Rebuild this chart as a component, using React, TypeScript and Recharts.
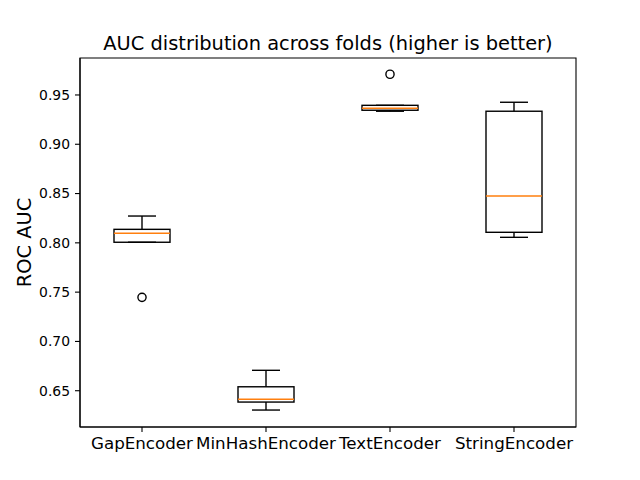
import { Bar, ComposedChart, ReferenceArea, Scatter, XAxis, YAxis } from "recharts";

const categories = ["GapEncoder", "MinHashEncoder", "TextEncoder", "StringEncoder"];
const whiskerLow = [0.8006, 0.6304, 0.9335, 0.8056];
const q1 = [0.8006, 0.6385, 0.9345, 0.8107];
const median = [0.8097, 0.6413, 0.9365, 0.8475];
const q3 = [0.8137, 0.654, 0.9395, 0.9335];
const whiskerHigh = [0.8272, 0.6707, 0.9395, 0.9426];
const outlier = [0.7447, null, 0.971, null];
const yTicks = [0.65, 0.7, 0.75, 0.8, 0.85, 0.9, 0.95];
const yDomain = [0.6132, 0.9875];

const FONT = "'DejaVu Sans', sans-serif";
const ORANGE = "#ff7f0e";

const data = categories.map((name, i) => ({
  name,
  range: [whiskerLow[i], whiskerHigh[i]],
  q1: q1[i],
  median: median[i],
  q3: q3[i],
  outlier: outlier[i],
}));

// Box + whiskers. The bar spans low..high whisker; inner values are placed
// linearly inside the rectangle the library computed.
function BoxShape(props: any) {
  const { x, y, width, height, payload } = props;
  const [lo, hi] = payload.range;
  const toY = (v: number) => y + ((hi - v) / (hi - lo)) * height;
  const cx = x + width / 2;
  const capHalf = width / 4;
  const yQ1 = toY(payload.q1);
  const yQ3 = toY(payload.q3);
  const yMed = toY(payload.median);
  const yLo = y + height;
  const sw = 1.4;
  return (
    <g>
      <line x1={cx} x2={cx} y1={y} y2={yQ3} stroke="#000" strokeWidth={sw} />
      <line x1={cx} x2={cx} y1={yQ1} y2={yLo} stroke="#000" strokeWidth={sw} />
      <line x1={cx - capHalf} x2={cx + capHalf} y1={y} y2={y} stroke="#000" strokeWidth={sw} />
      <line x1={cx - capHalf} x2={cx + capHalf} y1={yLo} y2={yLo} stroke="#000" strokeWidth={sw} />
      <rect x={x} y={yQ3} width={width} height={yQ1 - yQ3} fill="none" stroke="#000" strokeWidth={sw} />
      <line x1={x} x2={x + width} y1={yMed} y2={yMed} stroke={ORANGE} strokeWidth={sw} />
    </g>
  );
}

function OutlierShape(props: any) {
  const { cx, cy, payload } = props;
  if (payload == null || payload.outlier == null || !Number.isFinite(cy)) return <g />;
  return <circle cx={cx} cy={cy} r={4.1} fill="none" stroke="#000" strokeWidth={1.4} />;
}

function YLabel(props: any) {
  const { viewBox } = props;
  const cy = viewBox.y + viewBox.height / 2;
  return (
    <text
      x={24}
      y={cy}
      transform={`rotate(-90 24 ${cy})`}
      textAnchor="middle"
      dominantBaseline="central"
      fontFamily={FONT}
      fontSize={19.4}
      fill="#000"
    >
      ROC AUC
    </text>
  );
}

export default function App() {
  return (
    <div style={{ position: "absolute", left: 0, top: 0, width: 640, height: 480, background: "#fff" }}>
      <div
        style={{
          position: "absolute",
          left: 80,
          top: 34,
          width: 496,
          textAlign: "center",
          fontFamily: FONT,
          fontSize: 19.4,
          lineHeight: "19.4px",
          color: "#000",
        }}
      >
        AUC distribution across folds (higher is better)
      </div>
      <ComposedChart width={640} height={480} data={data} margin={{ top: 58, right: 64, left: 0, bottom: 0 }}>
        <XAxis
          dataKey="name"
          type="category"
          interval={0}
          height={53}
          tickSize={5}
          tickMargin={5}
          tick={{ fontFamily: FONT, fontSize: 16.7, fill: "#000" }}
          tickLine={{ stroke: "#000", strokeWidth: 1.1 }}
          axisLine={{ stroke: "#000", strokeWidth: 1.1 }}
        />
        <YAxis
          type="number"
          domain={yDomain}
          ticks={yTicks}
          allowDataOverflow
          width={80}
          tickSize={5}
          tickMargin={5}
          tickFormatter={(v: number) => v.toFixed(2)}
          tick={{ fontFamily: FONT, fontSize: 13.9, fill: "#000" }}
          tickLine={{ stroke: "#000", strokeWidth: 1.1 }}
          axisLine={{ stroke: "#000", strokeWidth: 1.1 }}
          label={<YLabel />}
        />
        <ReferenceArea y1={yDomain[0]} y2={yDomain[1]} fill="none" stroke="#000" strokeWidth={1.1} />
        <Bar dataKey="range" barSize={56} shape={<BoxShape />} isAnimationActive={false} />
        <Scatter dataKey="outlier" shape={<OutlierShape />} isAnimationActive={false} />
      </ComposedChart>
    </div>
  );
}
